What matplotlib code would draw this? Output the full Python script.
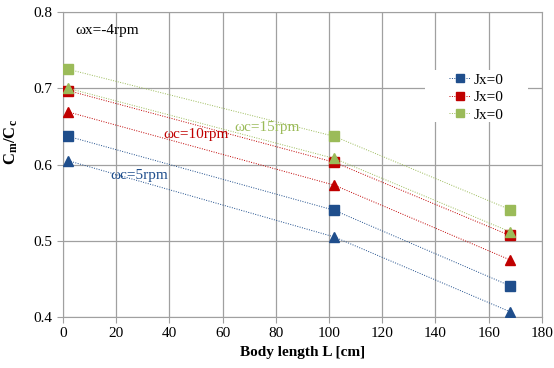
import matplotlib
matplotlib.use('Agg')
import matplotlib.pyplot as plt
from matplotlib.patches import Rectangle

plt.rcParams['font.family'] = ['Liberation Serif', 'DejaVu Serif']
plt.rcParams['mathtext.fontset'] = 'custom'
plt.rcParams['mathtext.rm'] = 'Liberation Serif'
plt.rcParams['mathtext.bf'] = 'Liberation Serif:bold'

# body length positions
L = [2, 102, 168]

# wc = 5rpm (blue)
blue_sq = [0.637, 0.540, 0.441]
blue_tri = [0.605, 0.505, 0.407]
# wc = 10rpm (red)
red_sq = [0.697, 0.603, 0.507]
red_tri = [0.669, 0.573, 0.475]
# wc = 15rpm (green)
green_sq = [0.725, 0.637, 0.541]
green_tri = [0.700, 0.608, 0.512]

BLUE = '#1F4E8C'
RED = '#C00000'
GREEN = '#9BBB59'

fig = plt.figure(figsize=(5.54, 3.68), dpi=100)
ax = fig.add_axes([0.1137, 0.1386, 0.8643, 0.8284])

series = [(blue_sq, blue_tri, BLUE), (red_sq, red_tri, RED), (green_sq, green_tri, GREEN)]
for sq, tri, c in series:
    ax.plot(L, sq, color=c, ls=(0, (1, 1.5)), lw=0.7, marker='s', ms=6.5,
            mec=c, mfc=c, label='Jx=0', zorder=3)
    ax.plot(L, tri, color=c, ls=(0, (1, 1.5)), lw=0.7, marker='^', ms=6.5,
            mec=c, mfc=c, zorder=3)

ax.set_xlim(0, 180)
ax.set_ylim(0.4, 0.8)
ax.set_xticks(range(0, 181, 20))
ax.set_yticks([0.4, 0.5, 0.6, 0.7, 0.8])
ax.set_yticklabels(['0.4', '0.5', '0.6', '0.7', '0.8'])
ax.grid(True, color='#a0a0a0', lw=0.9)
ax.set_axisbelow(True)
for s in ax.spines.values():
    s.set_color('#a0a0a0')
ax.tick_params(colors='#a0a0a0', labelcolor='black', labelsize=11, length=4)

ax.set_xlabel('Body length L [cm]', fontsize=11, fontweight='bold', labelpad=4)
ax.set_ylabel(r'$\mathbf{C_m/C_c}$', fontsize=12)
ax.yaxis.set_label_coords(-0.09, 0.574)

ax.text(4.5, 0.776, '\u03c9x=-4rpm', fontsize=11, color='black', va='center')
ax.text(17.7, 0.586, '\u03c9c=5rpm', fontsize=11, color=BLUE, va='center')
ax.text(37.6, 0.639, '\u03c9c=10rpm', fontsize=11, color=RED, va='center')
ax.text(64.6, 0.648, '\u03c9c=15rpm', fontsize=11, color=GREEN, va='center')

# white legend background that hides the grid
ax.add_patch(Rectangle((0.756, 0.639), 0.215, 0.171, transform=ax.transAxes,
                       facecolor='white', edgecolor='none', zorder=2))
leg = ax.legend(loc='upper left', bbox_to_anchor=(0.806, 0.80), fontsize=11,
                frameon=False, borderpad=0, borderaxespad=0,
                handlelength=1.4, handletextpad=0.2, labelspacing=0.25,
                markerscale=0.85)
leg.set_zorder(4)
fig.savefig('out.png', dpi=100)
